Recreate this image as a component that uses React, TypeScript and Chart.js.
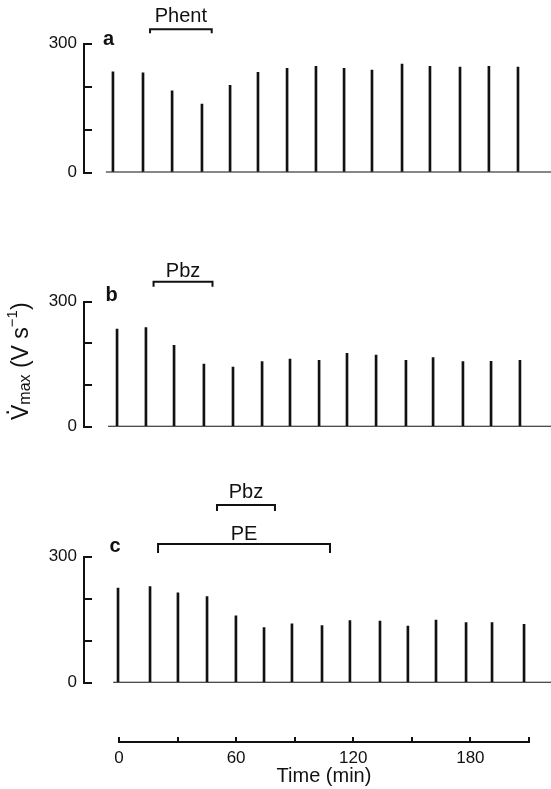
import React, { useEffect, useRef } from 'react';
import { Chart, registerables } from 'chart.js';

Chart.register(...registerables);

// ---------------- data ----------------
// time of each Vmax measurement (min) and Vmax (V s^-1), per panel
const TIME_A = [-3.1, 12.3, 27.2, 42.5, 56.9, 71.2, 86.1, 100.9, 115.3, 129.6, 145.0, 159.3, 174.7, 189.5, 204.4];
const VMAX_A = [234, 232, 190, 159, 203, 233, 242, 247, 242, 238, 252, 247, 245, 247, 245];
const TIME_B = [-1.0, 13.8, 28.2, 43.5, 58.4, 73.3, 87.6, 102.5, 116.8, 131.7, 147.0, 160.9, 176.2, 190.6, 205.4];
const VMAX_B = [234, 238, 195, 150, 143, 156, 162, 159, 176, 172, 159, 166, 156, 157, 159];
const TIME_C = [-0.5, 15.9, 30.2, 45.1, 59.9, 74.3, 88.6, 104.0, 118.3, 133.7, 148.0, 162.4, 177.8, 191.1, 207.5];
const VMAX_C = [225, 229, 214, 205, 159, 131, 140, 136, 148, 147, 135, 149, 143, 143, 139];
// where each trace's baseline starts (min)
const TRACE_START = [-6.7, -5.6, -3.0];

const PANEL_LETTERS = ['a', 'b', 'c'];

// drug application periods
const DRUG_LABELS = ['Phent', 'Pbz', 'Pbz', 'PE'];
const DRUG_PANEL = [0, 1, 2, 2];
const DRUG_START = [15.9, 17.7, 50.2, 20.0];
const DRUG_END = [47.5, 47.9, 79.9, 108.1];

// axes
const VMAX_MAX = 300;
const VMAX_STEP = 100;
const VMAX_LABELLED = [0, 300];
const TIME_MAX = 210;
const TIME_STEP = 30;
const TIME_LABELLED = [0, 60, 120, 180];

// ---------------- layout / style ----------------
const W = 551;
const H = 789;
const INK = '#111111';
const FONT = "'Liberation Sans', Arial, Helvetica, sans-serif";
const AXIS_X = 84; // pixel x of the Vmax axis lines
const T0_PX = 119; // pixel x of time 0
const PX_PER_MIN = 1.952;
const X_MIN = (AXIS_X - T0_PX) / PX_PER_MIN;
const X_MAX = (W - T0_PX) / PX_PER_MIN;
const PAD_TOP = 10;
const BOTTOM_H = 47;
// heights of the stacked rows (gap, panel a, gap, panel b, gap, panel c, gap)
const ROW_IDS = ['gTop', 'yA', 'gB', 'yB', 'gC', 'yC', 'gBottom'];
const ROW_H = [33.5, 129, 129.2, 125, 130, 126, 59.3];
const PANEL_IDS = ['yA', 'yB', 'yC'];

const LETTER_DX = [24.5, 27.5, 31];
const LETTER_DY = [1.5, -0.7, -4.7];
const BRACKET_LIFT = [14.2, 20, 51.7, 12.7];
const BRACKET_HOOK = [4, 5, 6, 9];
const LABEL_GAP = [7, 5, 7, 4];

const TITLE_CX = 20;
const TITLE_BASE = 8;

const zeroPad = (s: any) => {
  s.paddingTop = 0;
  s.paddingBottom = 0;
  s.paddingLeft = 0;
  s.paddingRight = 0;
};
const fixLeft = (s: any) => {
  s.width = AXIS_X;
  zeroPad(s);
};
const fixBottom = (s: any) => {
  s.height = BOTTOM_H;
  zeroPad(s);
};

function buildScales() {
  const scales: any = {
    x: {
      type: 'linear',
      axis: 'x',
      position: 'bottom',
      display: false,
      min: X_MIN,
      max: X_MAX,
      offset: false,
      grid: { offset: false },
    },
    tPadL: {
      type: 'linear',
      axis: 'x',
      position: 'bottom',
      stack: 'timeRow',
      stackWeight: -X_MIN,
      weight: 1,
      display: false,
      afterFit: fixBottom,
    },
    minutes: {
      type: 'linear',
      axis: 'x',
      position: 'bottom',
      stack: 'timeRow',
      stackWeight: TIME_MAX,
      weight: 2,
      min: 0,
      max: TIME_MAX,
      offset: false,
      afterFit: fixBottom,
      border: { display: true, width: 2, color: INK },
      grid: {
        display: true,
        offset: false,
        drawOnChartArea: false,
        drawTicks: true,
        tickLength: -5,
        tickWidth: 2,
        tickColor: INK,
        lineWidth: 2,
        color: INK,
      },
      ticks: {
        stepSize: TIME_STEP,
        autoSkip: false,
        maxRotation: 0,
        minRotation: 0,
        padding: 11,
        color: INK,
        font: { family: FONT, size: 17 },
        callback: (v: any) => (TIME_LABELLED.includes(Number(v)) ? String(v) : ''),
      },
      title: {
        display: true,
        text: 'Time (min)',
        color: INK,
        font: { family: FONT, size: 20 },
        padding: { top: 0, bottom: 1 },
      },
    },
    tPadR: {
      type: 'linear',
      axis: 'x',
      position: 'bottom',
      stack: 'timeRow',
      stackWeight: X_MAX - TIME_MAX,
      weight: 3,
      display: false,
      afterFit: fixBottom,
    },
  };

  ROW_IDS.forEach((id, i) => {
    const base = {
      type: 'linear',
      axis: 'y',
      position: 'left',
      stack: 'rows',
      stackWeight: ROW_H[i],
      weight: 100 - i * 10,
      afterFit: fixLeft,
    };
    if (PANEL_IDS.includes(id)) {
      scales[id] = {
        ...base,
        min: 0,
        max: VMAX_MAX,
        border: { display: true, width: 2, color: INK },
        grid: {
          display: true,
          drawOnChartArea: false,
          drawTicks: true,
          tickLength: -8,
          tickWidth: 2,
          tickColor: INK,
          lineWidth: 2,
          color: INK,
        },
        ticks: {
          stepSize: VMAX_STEP,
          autoSkip: false,
          padding: 15,
          color: INK,
          font: { family: FONT, size: 17 },
          callback: (v: any) => (VMAX_LABELLED.includes(Number(v)) ? String(v) : ''),
        },
      };
    } else {
      scales[id] = { ...base, display: false };
    }
  });
  return scales;
}

function buildDatasets() {
  const panels = [
    [TIME_A, VMAX_A],
    [TIME_B, VMAX_B],
    [TIME_C, VMAX_C],
  ];
  const out: any[] = [];
  panels.forEach(([times, values], i) => {
    out.push({
      type: 'bar',
      data: times.map((t, k) => ({ x: t, y: values[k] })),
      xAxisID: 'x',
      yAxisID: PANEL_IDS[i],
      backgroundColor: INK,
      borderWidth: 0,
      barThickness: 2,
      grouped: false,
    });
    out.push({
      type: 'line',
      data: [
        { x: TRACE_START[i], y: 0 },
        { x: X_MAX, y: 0 },
      ],
      xAxisID: 'x',
      yAxisID: PANEL_IDS[i],
      borderColor: INK,
      borderWidth: 2,
      pointRadius: 0,
      fill: false,
      borderCapStyle: 'butt',
    });
  });
  return out;
}

const annotationPlugin = {
  id: 'figureAnnotations',
  afterDraw(chart: any) {
    const ctx: CanvasRenderingContext2D = chart.ctx;
    const xs = chart.scales.x;
    ctx.save();
    ctx.fillStyle = INK;
    ctx.strokeStyle = INK;

    // panel letters
    ctx.font = `bold 20px ${FONT}`;
    ctx.textAlign = 'center';
    ctx.textBaseline = 'alphabetic';
    PANEL_LETTERS.forEach((letter, i) => {
      const ys = chart.scales[PANEL_IDS[i]];
      ctx.fillText(letter, ys.right + LETTER_DX[i], ys.top + LETTER_DY[i]);
    });

    // drug brackets
    DRUG_LABELS.forEach((label, k) => {
      const ys = chart.scales[PANEL_IDS[DRUG_PANEL[k]]];
      const x1 = xs.getPixelForValue(DRUG_START[k]);
      const x2 = xs.getPixelForValue(DRUG_END[k]);
      const y = ys.top - BRACKET_LIFT[k];
      const hook = BRACKET_HOOK[k];
      ctx.beginPath();
      ctx.moveTo(x1, y + hook);
      ctx.lineTo(x1, y);
      ctx.lineTo(x2, y);
      ctx.lineTo(x2, y + hook);
      ctx.lineWidth = 2;
      ctx.lineJoin = 'miter';
      ctx.stroke();
      ctx.font = `20px ${FONT}`;
      ctx.textAlign = 'center';
      ctx.fillText(label, (x1 + x2) / 2, y - LABEL_GAP[k]);
    });

    // y-axis title: V̇max (V s−1)
    const yb = chart.scales.yB;
    const cy = (yb.top + yb.bottom) / 2 - 3;
    ctx.translate(TITLE_CX, cy);
    ctx.rotate(-Math.PI / 2);
    const segs = [
      { text: 'V', size: 23, shift: 0 },
      { text: 'max', size: 16, shift: 2 },
      { text: ' (V s', size: 23, shift: 0 },
      { text: '\u22121', size: 15, shift: -11 },
      { text: ')', size: 23, shift: 0 },
    ];
    const widths = segs.map((s) => {
      ctx.font = `${s.size}px ${FONT}`;
      return ctx.measureText(s.text).width;
    });
    const total = widths.reduce((a, b) => a + b, 0);
    let x = -total / 2;
    ctx.textBaseline = 'alphabetic';
    segs.forEach((s, i) => {
      ctx.font = `${s.size}px ${FONT}`;
      ctx.textAlign = 'left';
      ctx.fillText(s.text, x, TITLE_BASE + s.shift);
      if (i === 0) {
        ctx.textAlign = 'center';
        ctx.fillText('.', x + widths[0] / 2, TITLE_BASE - 0.716 * s.size - 3);
      }
      x += widths[i];
    });
    ctx.restore();
  },
};

export default function App() {
  const ref = useRef<HTMLCanvasElement>(null);
  useEffect(() => {
    const canvas = ref.current;
    if (!canvas) return;
    const chart = new Chart(canvas, {
      type: 'line',
      data: { datasets: buildDatasets() },
      options: {
        responsive: false,
        animation: false,
        devicePixelRatio: 1,
        events: [],
        layout: { padding: { top: PAD_TOP, left: 0, right: 0, bottom: 0 } },
        plugins: {
          legend: { display: false },
          tooltip: { enabled: false },
          title: { display: false },
        },
        scales: buildScales(),
      } as any,
      plugins: [annotationPlugin],
    } as any);
    return () => chart.destroy();
  }, []);
  return (
    <div style={{ position: 'fixed', left: 0, top: 0, width: W, height: H, background: '#ffffff' }}>
      <canvas ref={ref} width={W} height={H} style={{ display: 'block', width: W, height: H }} />
    </div>
  );
}
